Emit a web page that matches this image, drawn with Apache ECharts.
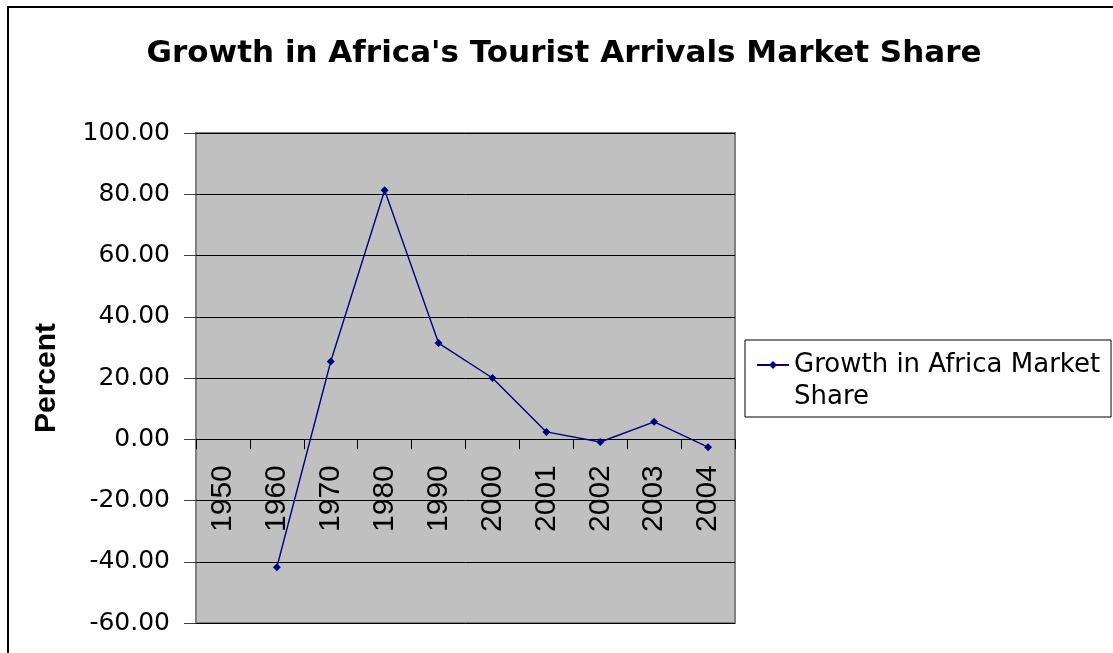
<!DOCTYPE html>
<html>
<head>
<meta charset="utf-8">
<title>Growth in Africa's Tourist Arrivals Market Share</title>
<script src="https://cdn.jsdelivr.net/npm/echarts@6/dist/echarts.min.js"></script>
<style>
  html, body { margin: 0; padding: 0; background: #fff; }
  #chart { width: 1113px; height: 653px; }
</style>
</head>
<body>
<div id="chart"></div>
<script>
// Category years along the x axis
const years = ['1950', '1960', '1970', '1980', '1990', '2000', '2001', '2002', '2003', '2004'];
// Growth in Africa's market share of tourist arrivals, percent (no value for 1950)
const growth = [null, -41.8, 25.4, 81.3, 31.4, 20.0, 2.4, -0.9, 5.7, -2.6];
// Value axis range and step
const yMin = -60;
const yMax = 100;
const yStep = 20;

const seriesName = 'Growth in Africa Market Share';
const wideFont = 'DejaVu Sans';
const arialLike = 'Liberation Sans, Arial, sans-serif';

// Plot box inside the 1113x653 canvas
const gridBox = { left: 196, right: 378, top: 133, bottom: 30 };
const plotHeight = 653 - gridBox.top - gridBox.bottom;
// The category axis sits on the zero line of the value axis
const zeroOffset = (0 - yMin) / (yMax - yMin) * plotHeight;

const chart = echarts.init(document.getElementById('chart'));

chart.setOption({
  backgroundColor: '#ffffff',
  animation: false,
  title: {
    text: "Growth in Africa's Tourist Arrivals Market Share",
    left: 559,
    top: 33,
    textAlign: 'center',
    textStyle: {
      fontFamily: wideFont,
      fontWeight: 'bold',
      fontSize: 31,
      color: '#000000'
    }
  },
  grid: {
    left: gridBox.left,
    right: gridBox.right,
    top: gridBox.top,
    bottom: gridBox.bottom,
    containLabel: false,
    outerBoundsMode: 'none',
    show: true,
    backgroundColor: '#c0c0c0',
    borderColor: '#808080',
    borderWidth: 2
  },
  legend: {
    left: 756,
    top: 317,
    padding: 0,
    itemWidth: 32,
    itemHeight: 10,
    // first (empty) line keeps the marker level with the first text line
    formatter: function (name) {
      return '\n' + name.replace(' Share', '\nShare');
    },
    textStyle: {
      fontFamily: wideFont,
      fontSize: 26,
      lineHeight: 32,
      color: '#000000'
    },
    data: [seriesName]
  },
  xAxis: {
    type: 'category',
    data: years,
    boundaryGap: true,
    position: 'bottom',
    offset: -zeroOffset,
    axisLine: { onZero: false, lineStyle: { color: '#000000', width: 1 } },
    axisTick: { show: true, interval: 0, length: 10, lineStyle: { color: '#000000' } },
    axisLabel: {
      interval: 0,
      rotate: 90,
      margin: 26,
      fontFamily: arialLike,
      fontSize: 30,
      color: '#000000'
    },
    splitLine: { show: false }
  },
  yAxis: {
    type: 'value',
    min: yMin,
    max: yMax,
    interval: yStep,
    name: 'Percent',
    nameLocation: 'middle',
    nameRotate: 90,
    nameGap: 134,
    nameTextStyle: {
      fontFamily: arialLike,
      fontWeight: 'bold',
      fontSize: 30,
      color: '#000000'
    },
    axisLine: { show: false },
    axisTick: { show: true, length: 12, lineStyle: { color: '#404040' } },
    axisLabel: {
      margin: 26,
      fontFamily: wideFont,
      fontSize: 25,
      color: '#000000',
      formatter: function (v) { return v.toFixed(2); }
    },
    splitLine: { show: true, lineStyle: { color: '#000000', width: 1 } }
  },
  series: [{
    name: seriesName,
    type: 'line',
    data: growth,
    connectNulls: false,
    symbol: 'diamond',
    symbolSize: 8,
    lineStyle: { color: '#000080', width: 1.4 },
    itemStyle: { color: '#000080' }
  }],
  graphic: [
    {
      // outer chart frame
      type: 'rect',
      silent: true,
      shape: { x: 8, y: 7, width: 1300, height: 1000 },
      style: { fill: null, stroke: '#000000', lineWidth: 2 }
    },
    {
      // legend frame
      type: 'rect',
      silent: true,
      shape: { x: 745, y: 340, width: 366, height: 77 },
      style: { fill: null, stroke: '#000000', lineWidth: 1 }
    }
  ]
});
</script>
</body>
</html>
